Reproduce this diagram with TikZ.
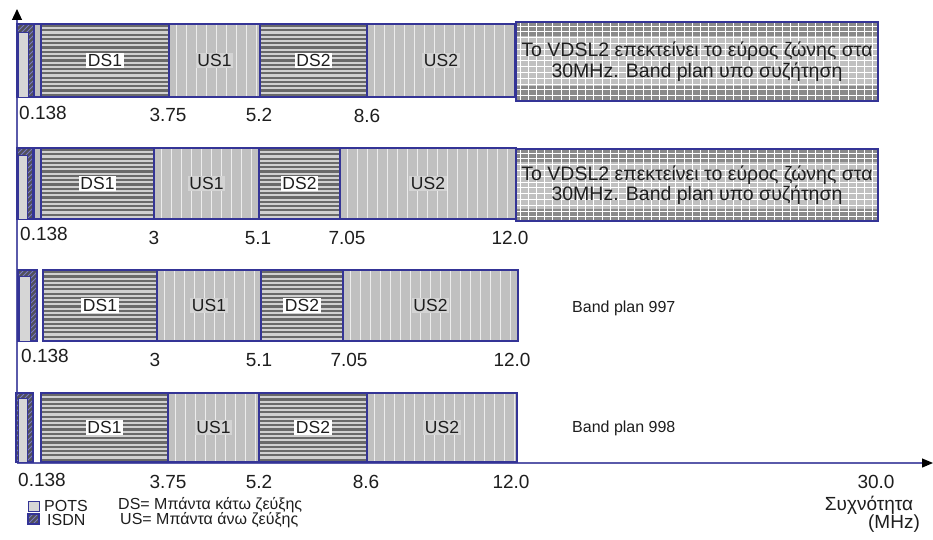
\documentclass[tikz,border=0pt]{standalone}
\usepackage{fontspec}
\setmainfont{Liberation Sans}
\usetikzlibrary{arrows.meta}
\definecolor{bord}{RGB}{52,52,150}
\definecolor{dsdark}{RGB}{105,105,105}
\definecolor{dslight}{RGB}{208,208,208}
\definecolor{usfill}{RGB}{192,192,192}
\definecolor{usline}{RGB}{236,236,236}
\definecolor{potsfill}{RGB}{214,214,214}
\definecolor{isdnfill}{RGB}{80,80,90}
\definecolor{isdnline}{RGB}{120,120,200}
\definecolor{gridd}{RGB}{138,138,138}
\definecolor{gridl}{RGB}{192,192,192}
\definecolor{axisc}{RGB}{90,90,170}
\definecolor{txt}{RGB}{30,30,30}
\definecolor{uslab}{RGB}{212,212,212}
\tikzset{
  bordline/.style={draw=bord,line width=1.2pt},
  dslab/.style={fill=white,inner sep=1.8pt,text=txt,font=\fontsize{17.5}{19}\selectfont},
  uslab/.style={fill=uslab,inner sep=1.8pt,text=txt,font=\fontsize{17.5}{19}\selectfont},
  numlab/.style={text=txt,inner sep=0pt,font=\fontsize{19}{21}\selectfont},
  planlab/.style={text=txt,inner sep=0pt,anchor=west,font=\fontsize{16}{18}\selectfont},
  leglab/.style={text=txt,inner sep=0pt,anchor=west,font=\fontsize{16}{17}\selectfont},
  vdsllab/.style={text=txt,align=center,inner sep=0pt,font=\fontsize{19.5}{20.5}\selectfont},
  axisline/.style={draw=axisc,line width=1.2pt},
}
% DS band: x1 y1 x2 y2 label name
\newcommand\DSband[6]{%
  \begin{scope}
    \clip (#1,#2) rectangle (#3,#4);
    \fill[dslight] (#1,#2) rectangle (#3,#4);
    \foreach \i in {0,...,18} \fill[dsdark] (#1,#2+1+\i*4.3) rectangle (#3,#2+3.2+\i*4.3);
  \end{scope}
  \draw[bordline] (#1,#2) rectangle (#3,#4);
  \node[dslab] (#6) at ({(#1+#3)/2},{(#2+#4)/2}) {#5};
}
% US band
\newcommand\USband[6]{%
  \begin{scope}
    \clip (#1,#2) rectangle (#3,#4);
    \fill[usfill] (#1,#2) rectangle (#3,#4);
    \foreach \i in {0,...,20} \draw[usline,line width=0.9pt] (#1+7+\i*10,#2) -- (#1+7+\i*10,#4);
  \end{scope}
  \draw[bordline] (#1,#2) rectangle (#3,#4);
  \node[uslab] (#6) at ({(#1+#3)/2},{(#2+#4)/2}) {#5};
}
% hatched ISDN area
\newcommand\ISDN[4]{%
  \begin{scope}
    \clip (#1,#2) rectangle (#3,#4);
    \fill[isdnfill] (#1,#2) rectangle (#3,#4);
    \foreach \i in {-18,...,4} \draw[isdnline,line width=0.8pt] (#1+\i*5,#4) -- (#1+\i*5+90,#4-90);
  \end{scope}
  \draw[bordline] (#1,#2) rectangle (#3,#4);
}
% POTS + ISDN group: gx1 gy1 gx2 gy2 px1 py1 px2
\newcommand\POTSgroup[7]{%
  \ISDN{#1}{#2}{#3}{#4}
  \filldraw[fill=potsfill,draw=bord,line width=0.8pt] (#5,#6) rectangle (#7,#4);
}
% VDSL2 box: x1 y1 x2 y2 ly1 ly2 name
\newcommand\VDSLbox[7]{%
  \begin{scope}
    \clip (#1,#2) rectangle (#3,#4);
    \fill[gridd] (#1,#2) rectangle (#3,#4);
    \fill[gridl] (#1,#5) rectangle (#3,#6);
    \foreach \i in {0,...,46} \draw[white,line width=0.7pt] (#1+4+\i*8.2,#2) -- (#1+4+\i*8.2,#4);
    \foreach \i in {0,...,14} \draw[white,line width=0.7pt] (#1,#2+4+\i*5.8) -- (#3,#2+4+\i*5.8);
  \end{scope}
  \draw[bordline] (#1,#2) rectangle (#3,#4);
  \node[vdsllab] (#7) at ({(#1+#3)/2},{(#2+#4)/2}) {Το VDSL2 επεκτείνει το εύρος ζώνης στα\\30MHz. Band plan υπο συζήτηση};
}
\begin{document}
\begin{tikzpicture}[x=1pt,y=-1pt]
\useasboundingbox (0,0) rectangle (933,540);
\fill[white] (0,0) rectangle (933,540);

% axes
\coordinate (origin) at (17,463);
\coordinate (ytop) at (17,9);
\coordinate (xend) at (933,463);
\draw[axisline,-{Triangle[length=11pt,width=10pt,color=black,fill=black]}] (origin) -- (ytop);
\draw[axisline,-{Triangle[length=11pt,width=9pt,color=black,fill=black]}] (origin) -- (xend);

% ---------- row 1 ----------
\POTSgroup{17}{24}{34}{97}{18}{32}{28}
\filldraw[fill=usfill,draw=bord,line width=1.2pt] (34,24) rectangle (41,97);
\DSband{41}{24}{169}{97}{DS1}{r1ds1}
\USband{169}{24}{260}{97}{US1}{r1us1}
\DSband{260}{24}{367}{97}{DS2}{r1ds2}
\USband{367}{24}{515}{97}{US2}{r1us2}
\VDSLbox{516}{22}{878}{101}{36}{86}{r1vdsl}
\node[numlab,anchor=west] (r1a) at (19,113) {0.138};
\node[numlab] (r1b) at (168,115) {3.75};
\node[numlab] (r1c) at (259,115) {5.2};
\node[numlab] (r1d) at (367,116) {8.6};

% ---------- row 2 ----------
\POTSgroup{17}{148}{33}{219}{18}{155}{27}
\filldraw[fill=usfill,draw=bord,line width=1.2pt] (34,148) rectangle (41,219);
\DSband{41}{148}{154}{219}{DS1}{r2ds1}
\USband{154}{148}{259}{219}{US1}{r2us1}
\DSband{259}{148}{340}{219}{DS2}{r2ds2}
\USband{340}{148}{516}{219}{US2}{r2us2}
\VDSLbox{516}{149}{878}{221}{162}{209}{r2vdsl}
\node[numlab,anchor=west] (r2a) at (20,234) {0.138};
\node[numlab] (r2b) at (154,238) {3};
\node[numlab] (r2c) at (258,238) {5.1};
\node[numlab] (r2d) at (347,238) {7.05};
\node[numlab] (r2e) at (510,238) {12.0};

% ---------- row 3 ----------
\POTSgroup{18}{270}{37}{341}{19}{276}{30}
\DSband{43}{270}{157}{341}{DS1}{r3ds1}
\USband{157}{270}{261}{341}{US1}{r3us1}
\DSband{261}{270}{343}{341}{DS2}{r3ds2}
\USband{343}{270}{518}{341}{US2}{r3us2}
\node[planlab] (r3plan) at (572,308) {Band plan 997};
\node[numlab,anchor=west] (r3a) at (21,356) {0.138};
\node[numlab] (r3b) at (155,360) {3};
\node[numlab] (r3c) at (259,360) {5.1};
\node[numlab] (r3d) at (349,360) {7.05};
\node[numlab] (r3e) at (512,360) {12.0};

% ---------- row 4 ----------
\POTSgroup{16}{393}{33}{462}{18}{398}{27}
\DSband{41}{393}{168}{462}{DS1}{r4ds1}
\USband{168}{393}{259}{462}{US1}{r4us1}
\DSband{259}{393}{367}{462}{DS2}{r4ds2}
\USband{367}{393}{517}{462}{US2}{r4us2}
\node[planlab] (r4plan) at (572,428) {Band plan 998};
\node[numlab,anchor=west] (r4a) at (18,480) {0.138};
\node[numlab] (r4b) at (168,482) {3.75};
\node[numlab] (r4c) at (259,482) {5.2};
\node[numlab] (r4d) at (366,482) {8.6};
\node[numlab] (r4e) at (511,482) {12.0};
\node[numlab] (r4f) at (876,482) {30.0};
\node[numlab] (freq) at (869,505) {Συχνότητα};
\node[numlab] (mhz) at (894,524) {(MHz)};

% ---------- legend ----------
\filldraw[fill=potsfill,draw=bord,line width=1pt] (28,501) rectangle (39,511);
\ISDN{28}{514}{39}{524}
\node[leglab] (legpots) at (44,505.5) {POTS};
\node[leglab] (legisdn) at (47,520) {ISDN};
\node[leglab] (legds) at (118,505.5) {DS= Μπάντα κάτω ζεύξης};
\node[leglab] (legus) at (120,520) {US= Μπάντα άνω ζεύξης};
\end{tikzpicture}
\end{document}
